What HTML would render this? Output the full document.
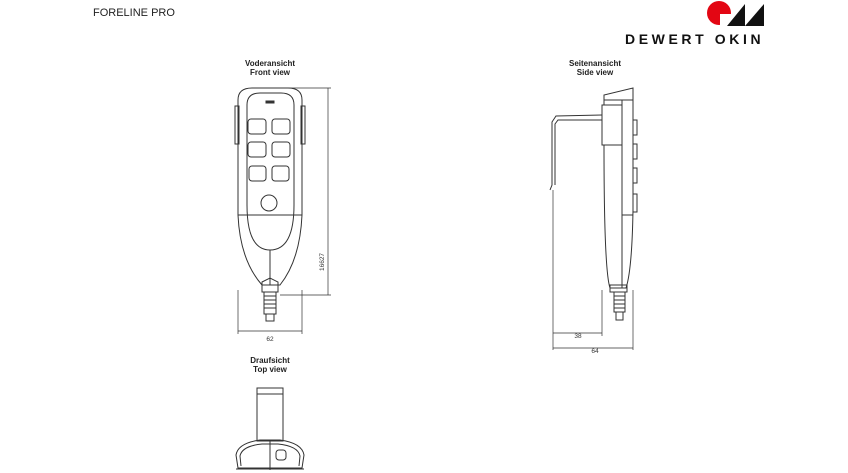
<!DOCTYPE html>
<html><head><meta charset="utf-8"><style>
body{margin:0;background:#fff;width:848px;height:473px;overflow:hidden;font-family:"Liberation Sans",sans-serif}
svg{position:absolute;left:0;top:0}
</style></head><body>
<svg width="848" height="473" viewBox="0 0 848 473" font-family="Liberation Sans, sans-serif">
<text x="93" y="16" font-size="11" fill="#222">FORELINE PRO</text>
<!-- logo -->
<circle cx="719" cy="13" r="12" fill="#e30613"/>
<rect x="720" y="14" width="12" height="12" fill="#fff"/>
<polygon points="727,26 745,4 745,26" fill="#111"/>
<polygon points="745,26 764,4 764,26" fill="#111"/>
<text x="625" y="44" font-size="14" font-weight="bold" letter-spacing="3.6" fill="#111">DEWERT OKIN</text>
<g font-size="8" font-weight="bold" text-anchor="middle" fill="#222">
<text x="270" y="66">Voderansicht</text><text x="270" y="75">Front view</text>
<text x="595" y="66">Seitenansicht</text><text x="595" y="75">Side view</text>
<text x="270" y="363">Draufsicht</text><text x="270" y="372">Top view</text>
</g>
<g fill="none" stroke="#333" stroke-width="1">
<!-- front view -->
<path d="M238,100 Q238,88 252,88 L288,88 Q302,88 302,100 L302,215 Q300,260 280,285 L262,285 Q240,260 238,215 Z"/>
<path d="M247,105 Q247,93 260,93 L281,93 Q294,93 294,105 L294,205 Q294,250 270,250 Q247,250 247,205 Z"/>
<line x1="238" y1="215" x2="302" y2="215"/>
<line x1="270" y1="250" x2="270" y2="285"/>
<rect x="266" y="101" width="8" height="2" fill="#333"/>
<rect x="248" y="119" width="18" height="15" rx="3"/><rect x="272" y="119" width="18" height="15" rx="3"/>
<rect x="248" y="142" width="18" height="15" rx="3"/><rect x="272" y="142" width="18" height="15" rx="3"/>
<rect x="249" y="166" width="17" height="15" rx="3"/><rect x="272" y="166" width="17" height="15" rx="3"/>
<circle cx="269" cy="203" r="8"/>
<rect x="235" y="106" width="4" height="38"/><rect x="301" y="106" width="4" height="38"/>
<path d="M262,282 L270,278 L278,282 L278,292 L262,292 Z"/>
<rect x="264" y="292" width="12" height="22"/>
<path d="M264,296h12M264,300h12M264,304h12M264,308h12"/>
<rect x="266" y="314" width="8" height="7"/>
<g stroke-width="0.7"><path d="M288,88 H331 M280,295 H331 M328,88 V295 M238,290 V334 M302,290 V334 M238,331 H302"/></g>
<!-- side view -->
<path d="M604,100 L604,95 L633,88 L633,100 Z"/>
<line x1="604" y1="100" x2="633" y2="100"/>
<rect x="602" y="105" width="20" height="40"/>
<path d="M604,100 V105 M633,100 V210 Q632,270 626,288 L610,288 Q604,270 604,145"/>
<line x1="622" y1="100" x2="622" y2="288"/>
<line x1="622" y1="215" x2="633" y2="215"/>
<path d="M602,115 L556,116 L552,122 L552,185 L550,190 M602,120 L558,120 L555,124 L555,185"/>
<rect x="633" y="120" width="4" height="15"/><rect x="633" y="144" width="4" height="15"/>
<rect x="633" y="168" width="4" height="15"/><rect x="633" y="194" width="4" height="18"/>
<rect x="610" y="285" width="17" height="7"/>
<rect x="614" y="292" width="11" height="20"/>
<path d="M614,296h11M614,300h11M614,304h11M614,308h11"/>
<rect x="616" y="312" width="7" height="8"/>
<g stroke-width="0.7"><path d="M553,190 V350 M602,290 V336 M633,290 V350 M553,333 H602 M553,348 H633"/></g>
<!-- top view -->
<rect x="257" y="388" width="26" height="53"/>
<line x1="257" y1="394" x2="283" y2="394"/>
<path d="M238,468 L236,455 Q238,443 260,440 L280,440 Q302,443 304,455 L302,468 Z"/>
<path d="M241,466 L240,456 Q242,446 262,444 L278,444 Q298,446 300,456 L299,466"/>
<line x1="270" y1="440" x2="270" y2="470"/>
<rect x="276" y="450" width="10" height="10" rx="3"/>
<line x1="236" y1="469" x2="304" y2="469"/>
</g>
<g font-size="6.5" fill="#333" text-anchor="middle">
<text x="270" y="341">62</text>
<text x="578" y="338">38</text>
<text x="595" y="353">64</text>
<text x="0" y="0" transform="translate(324,262) rotate(-90)">16627</text>
</g>
</svg>
</body></html>
